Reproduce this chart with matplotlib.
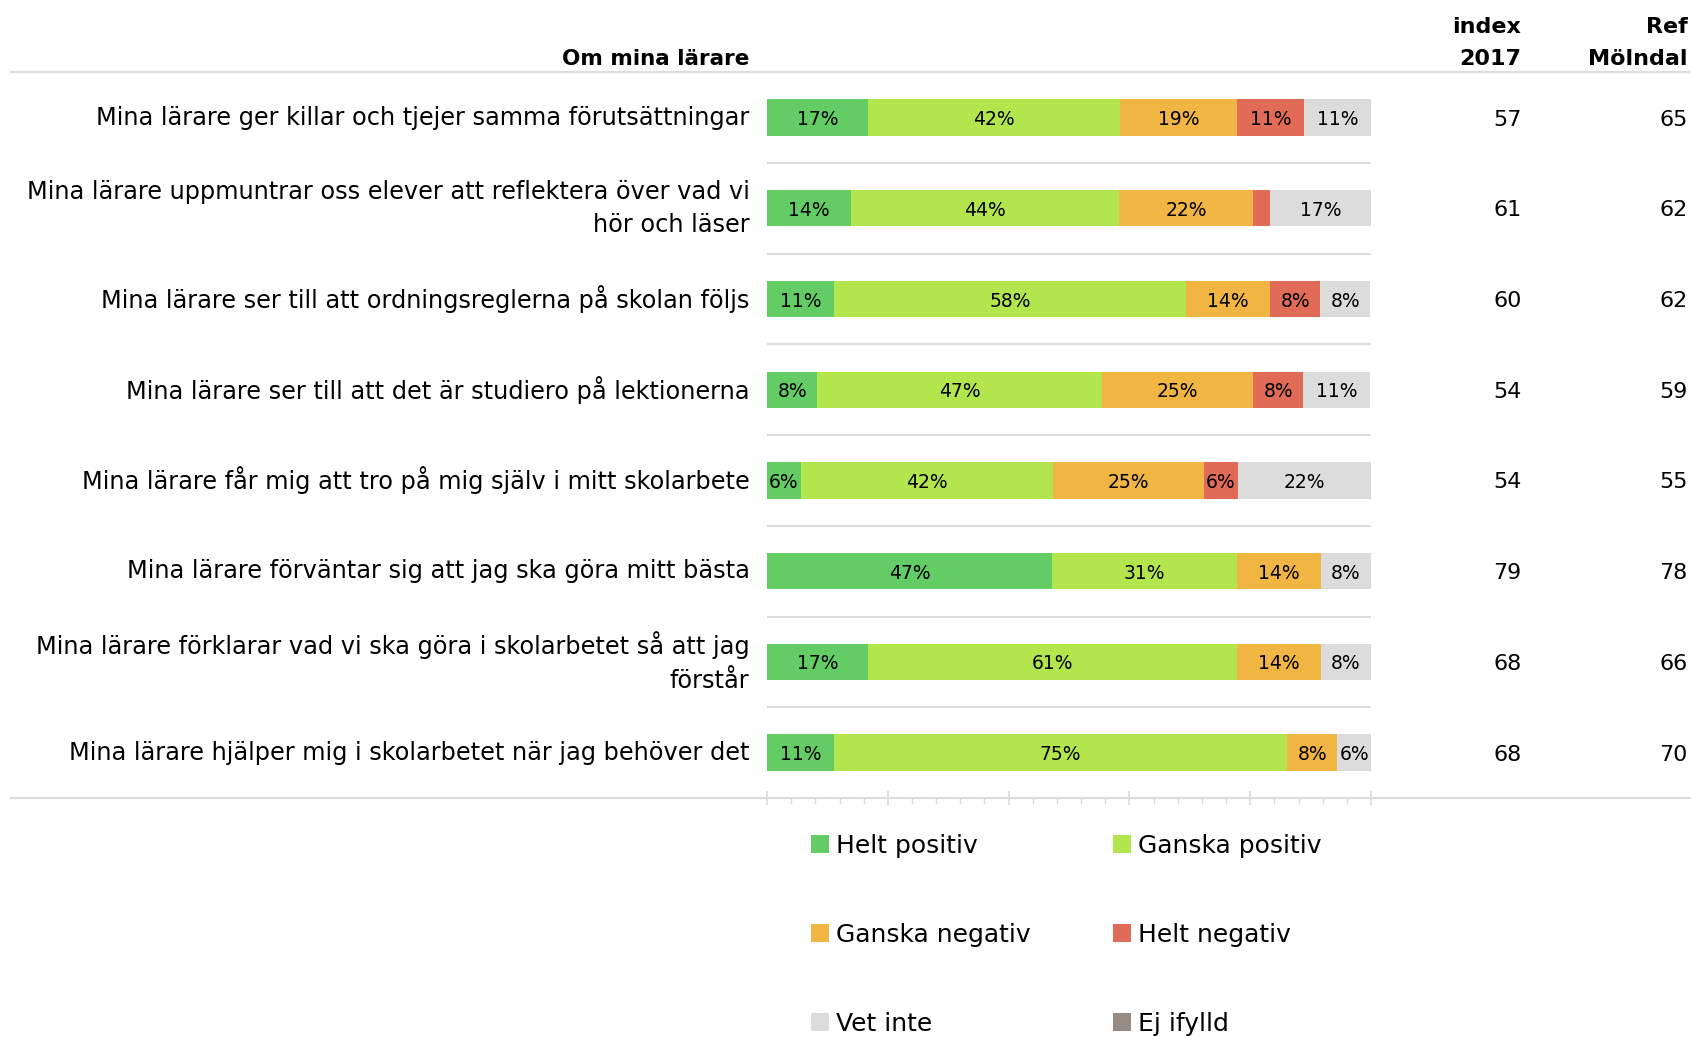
import numpy as np
import matplotlib
matplotlib.use('Agg')
import matplotlib.pyplot as plt
from matplotlib.patches import Patch

plt.rcParams['font.family'] = ['DejaVu Sans']

# Questions (top to bottom)
questions = [
    "Mina lärare ger killar och tjejer samma förutsättningar",
    "Mina lärare uppmuntrar oss elever att reflektera över vad vi\nhör och läser",
    "Mina lärare ser till att ordningsreglerna på skolan följs",
    "Mina lärare ser till att det är studiero på lektionerna",
    "Mina lärare får mig att tro på mig själv i mitt skolarbete",
    "Mina lärare förväntar sig att jag ska göra mitt bästa",
    "Mina lärare förklarar vad vi ska göra i skolarbetet så att jag\nförstår",
    "Mina lärare hjälper mig i skolarbetet när jag behöver det",
]

categories = ["Helt positiv", "Ganska positiv", "Ganska negativ",
              "Helt negativ", "Vet inte", "Ej ifylld"]
colors = ["#63CC65", "#B3E64D", "#F0B542", "#E06C58", "#DCDCDC", "#968C84"]

# shares in percent, one list per category
helt_positiv = [16.7, 13.9, 11.1, 8.3, 5.6, 47.2, 16.7, 11.1]
ganska_positiv = [41.7, 44.4, 58.3, 47.2, 41.7, 30.6, 61.1, 75.0]
ganska_negativ = [19.4, 22.2, 13.9, 25.0, 25.0, 13.9, 13.9, 8.3]
helt_negativ = [11.1, 2.8, 8.3, 8.3, 5.6, 0, 0, 0]
vet_inte = [11.1, 16.7, 8.3, 11.1, 22.2, 8.3, 8.3, 5.6]
ej_ifylld = [0, 0, 0, 0, 0, 0, 0, 0]

index_2017 = [57, 61, 60, 54, 54, 79, 68, 68]
ref_molndal = [65, 62, 62, 59, 55, 78, 66, 70]

series = [helt_positiv, ganska_positiv, ganska_negativ,
          helt_negativ, vet_inte, ej_ifylld]

fig = plt.figure(figsize=(16.91, 10.37), dpi=100)
ax = fig.add_axes([0.4536, 0.2305, 0.3572, 0.6998])

y = np.arange(len(questions))
left = np.zeros(len(questions))
for vals, col in zip(series, colors):
    vals = np.array(vals, dtype=float)
    ax.barh(y, vals, left=left, height=0.4, color=col, edgecolor='none')
    for yi, l, v in zip(y, left, vals):
        if v >= 5:
            ax.text(l + v / 2, yi, f"{round(v)}%", ha='center',
                    va='center_baseline', fontsize=13.5, color='black')
    left += vals

ax.set_xlim(0, 100)
ax.set_ylim(len(questions) - 0.5, -0.5)

# separators between rows
for yi in y[:-1]:
    ax.axhline(yi + 0.5, color='#DDDDDD', lw=1.5, zorder=0)

for s in ax.spines.values():
    s.set_visible(False)
ax.set_yticks([])
ax.set_xticks(np.arange(0, 101, 20))
ax.set_xticks(np.arange(0, 101, 4), minor=True)
ax.set_xticklabels([])
ax.tick_params(axis='x', which='major', direction='inout', length=10,
               width=1.2, color='#D9D9D9')
ax.tick_params(axis='x', which='minor', direction='out', length=4,
               width=1.0, color='#D9D9D9')

# long header / footer lines across the whole figure
for yl in (1.0, 0.0):
    ax.plot([-1.252, 1.53], [yl, yl], transform=ax.transAxes, color='#DDDDDD',
            lw=1.5, clip_on=False)

# question labels and index columns
tr = ax.get_yaxis_transform()
for yi, q, i17, ref in zip(y, questions, index_2017, ref_molndal):
    ax.text(-0.029, yi, q, transform=tr, ha='right', va='center',
            fontsize=17.3, linespacing=1.5)
    ax.text(1.249, yi, str(i17), transform=tr, ha='right',
            va='center_baseline', fontsize=16)
    ax.text(1.524, yi, str(ref), transform=tr, ha='right',
            va='center_baseline', fontsize=16)

# headers
ax.text(-0.029, 1.005, "Om mina lärare", transform=ax.transAxes, ha='right',
        va='bottom', fontsize=15.5, fontweight='bold')
ax.text(1.249, 1.005, "index\n2017", transform=ax.transAxes, ha='right',
        va='bottom', fontsize=16, fontweight='bold', linespacing=1.72)
ax.text(1.524, 1.005, "Ref\nMölndal", transform=ax.transAxes, ha='right',
        va='bottom', fontsize=16, fontweight='bold', linespacing=1.72)

# legend filled row by row: reorder for matplotlib's column-major layout
order = [0, 2, 4, 1, 3, 5]
handles = [Patch(facecolor=colors[i], edgecolor='none') for i in order]
labels = [categories[i] for i in order]
fig.legend(handles, labels, loc='upper left', bbox_to_anchor=(0.4796, 0.196),
           ncol=2, frameon=False, fontsize=18, handlelength=0.7,
           handleheight=0.7, handletextpad=0.3, labelspacing=2.6,
           columnspacing=3.3, borderpad=0, borderaxespad=0)

fig.savefig("out.png", dpi=100)
